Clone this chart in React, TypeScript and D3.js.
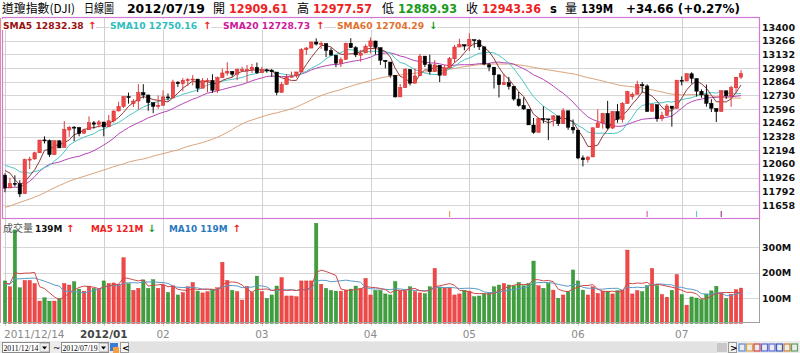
import { useEffect, useRef } from 'react';
import * as d3 from 'd3';

// daily candles 2011/12/14 .. 2012/07/19
const opens = [
  11950, 11825, 11870, 11866, 11769, 12097, 12109, 12169, 12295, 12290, 12151, 12286,
  12221, 12392, 12420, 12415, 12360, 12394, 12462, 12448, 12470, 12423, 12482, 12578, 12623, 12720, 12650, 12676, 12758, 12734, 12659, 12623,
  12633, 12716, 12705, 12860, 12845, 12878, 12883, 12890, 12801, 12874, 12878, 12781, 12904, 12949, 12965, 12938, 12975, 12970, 12982, 13005,
  12952, 12980, 12977, 12959, 12760, 12838, 12907, 12922, 12960, 13178, 13194, 13253, 13231, 13238, 13171, 13124, 13046, 13082, 13241, 13198, 13124, 13146,
  13211, 13263, 13198, 13074, 13057, 12928, 12716, 12806, 12985, 12850, 12922, 13115, 13031, 12965, 13026, 12928, 13000, 13089, 13204, 13227,
  13214, 13276, 13268, 13206, 13030, 13007, 12932, 12835, 12855, 12820, 12694, 12633, 12596, 12441, 12369, 12504, 12501, 12497, 12530, 12454, 12580, 12419,
  12391, 12119, 12101, 12128, 12416, 12460, 12555, 12411, 12573, 12497, 12651, 12718, 12742, 12835, 12823, 12575, 12640, 12503, 12534, 12626, 12603,
  12879, 12871, 12942, 12895, 12771, 12736, 12653, 12603, 12573, 12776, 12727, 12805, 12909.61,
];
const highs = [
  11968, 11925, 11948, 11900, 12112, 12130, 12180, 12294, 12330, 12300, 12288, 12293,
  12479, 12430, 12430, 12422, 12405, 12525, 12480, 12490, 12472, 12539, 12583, 12668, 12720, 12758, 12695, 12841, 12840, 12740, 12660, 12730,
  12780, 12750, 12884, 12870, 12900, 12900, 12929, 12892, 12900, 12900, 12938, 12915, 12994, 13055, 12970, 12995, 13010, 13027, 13039, 13052,
  13010, 12992, 12990, 12959, 12864, 12940, 12963, 12960, 13193, 13205, 13255, 13289, 13260, 13238, 13194, 13124, 13103, 13245, 13290, 13213, 13175, 13230,
  13297, 13266, 13198, 13074, 13057, 12928, 12843, 12997, 12985, 12994, 13136, 13115, 13130, 13076, 13026, 13031, 13107, 13224, 13285, 13227,
  13338, 13276, 13280, 13206, 13048, 13007, 12932, 12941, 12912, 12820, 12764, 12711, 12596, 12510, 12513, 12624, 12501, 12538, 12532, 12606, 12580, 12495,
  12391, 12143, 12135, 12415, 12594, 12558, 12677, 12575, 12646, 12665, 12776, 12760, 12874, 12860, 12839, 12650, 12640, 12571, 12647, 12626, 12880,
  12917, 12943, 12957, 12896, 12789, 12837, 12693, 12603, 12780, 12776, 12825, 12910, 12977.57,
];
const lows = [
  11783, 11825, 11840, 11735, 11769, 12010, 12100, 12169, 12260, 12128, 12151, 12217,
  12221, 12325, 12283, 12330, 12355, 12394, 12405, 12418, 12330, 12423, 12465, 12575, 12608, 12650, 12618, 12590, 12700, 12580, 12557, 12600,
  12633, 12680, 12705, 12814, 12770, 12824, 12830, 12763, 12801, 12760, 12755, 12755, 12904, 12924, 12914, 12880, 12964, 12861, 12950, 12940,
  12952, 12953, 12912, 12732, 12760, 12838, 12907, 12904, 12960, 13127, 13192, 13219, 13186, 13105, 13120, 13007, 13008, 13082, 13197, 13105, 13060, 13145,
  13142, 13130, 13029, 12995, 12904, 12710, 12716, 12806, 12828, 12850, 12922, 13009, 12935, 12965, 12861, 12928, 13000, 13050, 13204, 13172,
  13165, 13197, 13175, 13025, 12967, 12798, 12710, 12835, 12787, 12678, 12620, 12589, 12442, 12355, 12369, 12459, 12293, 12428, 12431, 12454, 12394, 12357,
  12107, 12035, 12074, 12128, 12416, 12405, 12396, 12402, 12463, 12466, 12651, 12690, 12742, 12760, 12569, 12575, 12473, 12478, 12534, 12425, 12603,
  12829, 12871, 12846, 12719, 12707, 12620, 12568, 12470, 12573, 12694, 12619, 12754, 12889.93,
];
const closes = [
  11823, 11868, 11866, 11766, 12103, 12107, 12169, 12294, 12291, 12151, 12287, 12217,
  12397, 12418, 12415, 12360, 12393, 12463, 12449, 12471, 12422, 12482, 12578, 12623, 12720, 12709, 12675, 12757, 12735, 12660, 12623, 12633,
  12716, 12705, 12862, 12845, 12878, 12884, 12891, 12801, 12874, 12878, 12781, 12904, 12950, 12966, 12938, 12984, 12983, 12982, 13005, 12952,
  12980, 12977, 12962, 12759, 12838, 12907, 12922, 12960, 13178, 13194, 13253, 13233, 13239, 13171, 13125, 13046, 13081, 13241, 13198, 13127, 13145, 13212,
  13264, 13199, 13075, 13060, 12929, 12716, 12806, 12987, 12850, 12921, 13115, 13032, 12964, 13029, 12928, 13001, 13090, 13204, 13228, 13213,
  13279, 13268, 13206, 13038, 13008, 12932, 12835, 12855, 12820, 12695, 12632, 12598, 12442, 12369, 12504, 12502, 12497, 12530, 12454, 12580, 12419, 12393,
  12118, 12101, 12127, 12414, 12461, 12554, 12411, 12573, 12497, 12652, 12767, 12742, 12837, 12824, 12574, 12640, 12502, 12535, 12627, 12602, 12880,
  12871, 12943, 12897, 12772, 12736, 12653, 12605, 12573, 12777, 12727, 12806, 12908.70, 12943.36,
];
// closes before the window, needed for the moving averages
const priorCloses = [
  11125, 10734, 10771, 11044, 11191, 10990, 11154, 10913,
  10655, 10809, 10940, 11124, 11103, 11433, 11416, 11519, 11479, 11644, 11397, 11577, 11505, 11541, 11809, 11913, 11706, 11869, 12209, 12231, 11955,
  11657, 11836, 12044, 11983, 12069, 12170, 11781, 11893, 12153, 12079, 12096, 11906, 11771, 11796, 11547, 11494, 11258, 11231, 11523, 11556, 12046,
  12021, 12019, 12098, 12150, 12196, 11997, 12184, 12021, 11955,
];
// volume in millions
const volumes = [
  167, 144, 367, 140, 169, 169, 157, 88, 101, 88, 88, 99,
  157, 151, 164, 135, 127, 147, 138, 135, 167, 157, 159, 154, 258, 156, 130, 138, 171, 138, 172, 138,
  151, 122, 148, 112, 121, 144, 161, 127, 120, 125, 135, 140, 240, 169, 130, 125, 92, 146, 122, 186,
  125, 99, 112, 147, 180, 108, 108, 105, 167, 167, 167, 393, 154, 138, 130, 127, 127, 131, 135, 147, 138, 177,
  112, 130, 130, 116, 112, 164, 127, 127, 144, 125, 120, 117, 144, 216, 143, 140, 140, 112, 116, 130,
  127, 105, 108, 116, 119, 144, 151, 157, 151, 148, 161, 148, 157, 245, 148, 138, 157, 131, 99, 112, 125, 210,
  167, 131, 112, 144, 118, 127, 127, 116, 129, 131, 288, 116, 129, 125, 149, 216, 149, 114, 103, 130, 192,
  114, 72, 104, 100, 95, 116, 128, 146, 120, 98, 115, 133, 139,
];
const priorVolumes = [165, 150, 140, 155, 160, 150, 148, 162, 158];

const priceTicks = [13400, 13266, 13132, 12998, 12864, 12730, 12596, 12462, 12328, 12194, 12060, 11926, 11792, 11658];
const volumeTicks = [100, 200, 300];
const monthTicks = [
  { index: 0, label: '2011/12/14' },
  { index: 20, label: '2012/01' },
  { index: 32, label: '02' },
  { index: 52, label: '03' },
  { index: 74, label: '04' },
  { index: 94, label: '05' },
  { index: 116, label: '06' },
  { index: 137, label: '07' },
];
const maPeriods = [5, 10, 20, 60];
const maNames = ['SMA5', 'SMA10', 'SMA20', 'SMA60'];
const maLegendValues = [12832.38, 12750.16, 12728.73, 12704.29];
const maUp = [true, true, true, false];
const volLegendValues = [139, 121, 119];
const signalMarks = [
  { index: 90, color: '#e8a060' },
  { index: 130, color: '#e060c0' },
  { index: 140, color: '#60c8d8' },
  { index: 145, color: '#a04090' },
];

const FONT = 'DejaVu Sans, Verdana, sans-serif';
const CJK = 'Noto Sans CJK TC, sans-serif';
const RED = '#ee2222';
const GREEN = '#1a9a1a';
const maColors = ['#8c3a3a', '#4cc6c6', '#b545b5', '#dba37a'];
const maTextColors = ['#991111', '#2fbdbd', '#cc1a99', '#e0722f'];

function movingAverage(series: number[], prior: number[], n: number) {
  const all = prior.concat(series);
  return series.map((_, i) => {
    const end = prior.length + i;
    return d3.mean(all.slice(end - n + 1, end + 1)) as number;
  });
}

export default function App() {
  const svgRef = useRef<SVGSVGElement>(null);

  useEffect(() => {
    if (!svgRef.current) return;
    const svg = d3.select(svgRef.current);
    svg.selectAll('*').remove();

    const left = 3, right = 759;
    const priceTop = 18, priceBottom = 218;
    const volTop = 219, volBottom = 323;

    const x = d3.scaleLinear().domain([0, closes.length - 1]).range([5, 741]);
    const y = d3.scaleLinear().domain([11658, 13400]).range([205, 27]);
    const yv = d3.scaleLinear().domain([0, 300]).range([323.5, 247]);

    svg.append('rect').attr('width', 800).attr('height', 353).attr('fill', '#fff');

    // ---------- header ----------
    const last = closes.length - 1;
    const chg = closes[last] - closes[last - 1];
    const header = [
      { x: 2, t: '道瓊指數(DJI)', c: '#000', cjk: true, w: 73 },
      { x: 84, t: '日線圖', c: '#000', cjk: true, w: 30 },
      { x: 127, t: '2012/07/19', c: '#000', w: 78 },
      { x: 213, t: '開', c: '#000', cjk: true },
      { x: 229, t: opens[last].toFixed(2), c: RED, w: 59 },
      { x: 297, t: '高', c: '#000', cjk: true },
      { x: 313, t: highs[last].toFixed(2), c: RED, w: 59 },
      { x: 382, t: '低', c: '#000', cjk: true },
      { x: 398, t: lows[last].toFixed(2), c: GREEN, w: 59 },
      { x: 466, t: '收', c: '#000', cjk: true },
      { x: 482, t: closes[last].toFixed(2), c: RED, w: 59 },
      { x: 550, t: 's', c: '#000' },
      { x: 565, t: '量', c: '#000', cjk: true },
      { x: 581, t: `${volumes[last]}M`, c: '#000', w: 32 },
      { x: 626, t: `+${chg.toFixed(2)} (+${(chg / closes[last - 1] * 100).toFixed(2)}%)`, c: '#000', w: 114 },
    ];
    header.forEach(h => {
      const t = svg.append('text')
        .attr('x', h.x).attr('y', 13)
        .attr('fill', h.c)
        .style('font-family', h.cjk ? CJK : FONT)
        .style('font-size', h.cjk ? '12px' : '11.5px')
        .style('font-weight', h.cjk ? 'normal' : 'bold')
        .text(h.t);
      if (h.w) t.attr('textLength', h.w).attr('lengthAdjust', 'spacingAndGlyphs');
    });

    // ---------- price grid ----------
    svg.append('g').selectAll('line').data(priceTicks).join('line')
      .attr('x1', left).attr('x2', right)
      .attr('y1', d => Math.round(y(d)) + 0.5).attr('y2', d => Math.round(y(d)) + 0.5)
      .attr('stroke', '#d6d6d6');
    svg.append('g').selectAll('line').data(monthTicks).join('line')
      .attr('x1', d => Math.round(x(d.index)) + 0.5).attr('x2', d => Math.round(x(d.index)) + 0.5)
      .attr('y1', priceTop).attr('y2', priceBottom)
      .attr('stroke', '#d0d0d0');
    svg.append('g').selectAll('text').data(priceTicks).join('text')
      .attr('x', 762).attr('y', d => y(d) + 3.5)
      .attr('fill', '#111')
      .style('font-family', FONT).style('font-size', '9.5px').style('font-weight', 'bold')
      .text(d => d);

    // ---------- moving averages ----------
    const mas = maPeriods.map(n => movingAverage(closes, priorCloses, n));
    const line = d3.line<number>().x((_, i) => x(i)).y(d => y(d));
    [3, 2, 1, 0].forEach(k => {
      svg.append('path').datum(mas[k])
        .attr('d', line)
        .attr('fill', 'none')
        .attr('stroke', maColors[k])
        .attr('stroke-width', 1);
    });

    // ---------- candles ----------
    const bw = 3.4;
    const candles = svg.append('g').selectAll('g').data(closes).join('g');
    const up = (i: number) => closes[i] >= opens[i];
    candles.append('line')
      .attr('x1', (_, i) => x(i)).attr('x2', (_, i) => x(i))
      .attr('y1', (_, i) => y(highs[i])).attr('y2', (_, i) => y(lows[i]))
      .attr('stroke', (_, i) => (up(i) ? '#e03a3a' : '#111'))
      .attr('stroke-width', 1);
    candles.append('rect')
      .attr('x', (_, i) => x(i) - bw / 2)
      .attr('width', bw)
      .attr('y', (_, i) => y(Math.max(opens[i], closes[i])))
      .attr('height', (_, i) => Math.max(1, Math.abs(y(opens[i]) - y(closes[i]))))
      .attr('fill', (_, i) => (up(i) ? '#f04848' : '#000'))
      .attr('stroke', (_, i) => (up(i) ? '#d02828' : '#000'))
      .attr('stroke-width', 0.5);

    // signal marks at panel bottom
    svg.append('g').selectAll('line').data(signalMarks).join('line')
      .attr('x1', d => x(d.index)).attr('x2', d => x(d.index))
      .attr('y1', 211).attr('y2', 217)
      .attr('stroke', d => d.color).attr('stroke-width', 1.2);

    // price panel frame
    svg.append('rect')
      .attr('x', 2.5).attr('y', priceTop - 0.5)
      .attr('width', right - 2).attr('height', priceBottom - priceTop + 1)
      .attr('fill', 'none').attr('stroke', '#d27ad2').attr('stroke-width', 1.2);
    svg.append('line').attr('x1', 0.5).attr('x2', 0.5).attr('y1', priceTop).attr('y2', volBottom)
      .attr('stroke', '#e08aa0');

    // MA legend
    const legendPos = [3, 110, 223, 337];
    const legendW = [80, 88, 88, 87];
    maNames.forEach((name, k) => {
      svg.append('rect').attr('x', legendPos[k] - 1).attr('y', 19).attr('width', legendW[k] + 14).attr('height', 11).attr('fill', '#fff');
      svg.append('text')
        .attr('x', legendPos[k]).attr('y', 28.5)
        .attr('fill', maTextColors[k])
        .style('font-family', FONT).style('font-size', '9.2px').style('font-weight', 'bold')
        .text(`${name} ${maLegendValues[k].toFixed(2)}`);
      svg.append('text')
        .attr('x', legendPos[k] + legendW[k] + 5).attr('y', 28.5)
        .attr('fill', maUp[k] ? RED : GREEN)
        .style('font-family', FONT).style('font-size', '10px').style('font-weight', 'bold')
        .text(maUp[k] ? '↑' : '↓');
    });

    // ---------- volume panel ----------
    svg.append('g').selectAll('line').data(volumeTicks).join('line')
      .attr('x1', left).attr('x2', right)
      .attr('y1', d => Math.round(yv(d)) + 0.5).attr('y2', d => Math.round(yv(d)) + 0.5)
      .attr('stroke', '#d6d6d6');
    svg.append('g').selectAll('line').data(monthTicks).join('line')
      .attr('x1', d => Math.round(x(d.index)) + 0.5).attr('x2', d => Math.round(x(d.index)) + 0.5)
      .attr('y1', volTop).attr('y2', volBottom + 3)
      .attr('stroke', '#d0d0d0');
    svg.append('g').selectAll('text').data(volumeTicks).join('text')
      .attr('x', 762).attr('y', d => yv(d) + 3.5)
      .attr('fill', '#111')
      .style('font-family', FONT).style('font-size', '9.5px').style('font-weight', 'bold')
      .text(d => `${d}M`);

    svg.append('g').selectAll('rect').data(volumes).join('rect')
      .attr('x', (_, i) => x(i) - bw / 2)
      .attr('width', bw)
      .attr('y', d => yv(d))
      .attr('height', d => yv(0) - yv(d))
      .attr('fill', (_, i) => (up(i) ? '#f04848' : '#3f9f3f'))
      .attr('stroke', (_, i) => (up(i) ? '#d83030' : '#2f8a2f'))
      .attr('stroke-width', 0.4);

    const vma5 = movingAverage(volumes, priorVolumes, 5);
    const vma10 = movingAverage(volumes, priorVolumes, 10);
    const vline = d3.line<number>().x((_, i) => x(i)).y(d => yv(d));
    svg.append('path').datum(vma10).attr('d', vline).attr('fill', 'none').attr('stroke', '#5a9ac8').attr('stroke-width', 1);
    svg.append('path').datum(vma5).attr('d', vline).attr('fill', 'none').attr('stroke', '#d04a4a').attr('stroke-width', 1);

    // axis lines
    svg.append('line').attr('x1', left).attr('x2', right).attr('y1', volBottom - 0.5).attr('y2', volBottom - 0.5)
      .attr('stroke', '#a0a0a0');
    svg.append('line').attr('x1', right + 0.5).attr('x2', right + 0.5).attr('y1', volTop).attr('y2', volBottom)
      .attr('stroke', '#a0a0a0');

    // volume legend
    const vl = svg.append('g').style('font-family', FONT).style('font-size', '8.9px').style('font-weight', 'bold');
    vl.append('text').attr('x', 3).attr('y', 231.5).attr('fill', '#555')
      .style('font-family', CJK).style('font-weight', 'normal').style('font-size', '10px').text('成交量');
    vl.append('text').attr('x', 35).attr('y', 231.5).attr('fill', '#111').text(`${volLegendValues[0]}M`);
    vl.append('text').attr('x', 66).attr('y', 231.5).attr('fill', RED).style('font-size', '10px').text('↑');
    vl.append('text').attr('x', 91).attr('y', 231.5).attr('fill', '#ee2222').text(`MA5 ${volLegendValues[1]}M`);
    vl.append('text').attr('x', 147.5).attr('y', 231.5).attr('fill', GREEN).style('font-size', '10px').text('↓');
    vl.append('text').attr('x', 169).attr('y', 231.5).attr('fill', '#2a78c0').text(`MA10 ${volLegendValues[2]}M`);
    vl.append('text').attr('x', 232.5).attr('y', 231.5).attr('fill', RED).style('font-size', '10px').text('↑');

    // x labels
    svg.append('g').selectAll('text').data(monthTicks).join('text')
      .attr('x', (d, i) => (i === 0 ? 4 : x(d.index)))
      .attr('y', 338)
      .attr('text-anchor', (_, i) => (i === 0 ? 'start' : 'middle'))
      .attr('fill', (_, i) => (i === 1 ? '#444' : '#8a8a8a'))
      .style('font-family', FONT)
      .style('font-size', '10.5px')
      .style('font-weight', (_, i) => (i === 1 ? 'bold' : 'normal'))
      .text(d => d.label);

    // ---------- bottom control bar ----------
    const bar = svg.append('g');
    bar.append('rect').attr('x', 0).attr('y', 341).attr('width', 800).attr('height', 12).attr('fill', '#ececec');
    bar.append('rect').attr('x', 128).attr('y', 342).attr('width', 589).attr('height', 11).attr('fill', '#e2e2e2');
    [[2, '2011/12/14'], [61, '2012/07/19']].forEach(([bx, label]) => {
      const b = bx as number;
      bar.append('rect').attr('x', b + 0.5).attr('y', 342.5).attr('width', 47).attr('height', 10)
        .attr('fill', '#fff').attr('stroke', '#8a8a8a');
      bar.append('text').attr('x', b + 1.5).attr('y', 351)
        .attr('textLength', 35).attr('lengthAdjust', 'spacingAndGlyphs')
        .style('font-family', 'Liberation Serif, serif').style('font-size', '8px').attr('fill', '#000')
        .text(label as string);
      bar.append('rect').attr('x', b + 38).attr('y', 343.5).attr('width', 9).attr('height', 8)
        .attr('fill', '#eee').attr('stroke', '#999').attr('stroke-width', 0.5);
      bar.append('path').attr('d', `M${b + 40},346.5 h5 l-2.5,3 z`).attr('fill', '#000');
    });
    bar.append('text').attr('x', 53).attr('y', 351).style('font-family', FONT).style('font-size', '9px').text('~');
    bar.append('rect').attr('x', 110).attr('y', 343).attr('width', 8).attr('height', 8).attr('fill', '#3a7ad8');
    bar.append('rect').attr('x', 113).attr('y', 347).attr('width', 6).attr('height', 6).attr('fill', '#f0a040');
    bar.append('rect').attr('x', 120.5).attr('y', 342.5).attr('width', 8).attr('height', 10).attr('fill', '#f4f4f4').attr('stroke', '#999');
    bar.append('text').attr('x', 122).attr('y', 351).style('font-family', FONT).style('font-size', '9px').style('font-weight', 'bold').text('<');
    bar.append('rect').attr('x', 717).attr('y', 343).attr('width', 10).attr('height', 9).attr('fill', '#c8c8c8');
    bar.append('rect').attr('x', 728.5).attr('y', 342.5).attr('width', 8).attr('height', 10).attr('fill', '#f4f4f4').attr('stroke', '#999');
    bar.append('text').attr('x', 730).attr('y', 351).style('font-family', FONT).style('font-size', '9px').style('font-weight', 'bold').text('>');
    const icons = ['#5a8ad0', '#e0a040', '#d04040', '#5a6ad8', '#5a6ad8', '#3a5ac0', '#d08030', '#60a060'];
    icons.forEach((c, k) => {
      bar.append('rect').attr('x', 739 + k * 7.5).attr('y', 344).attr('width', 6).attr('height', 7)
        .attr('fill', 'none').attr('stroke', c).attr('stroke-width', 1.2);
    });
  }, []);

  return (
    <svg
      ref={ svgRef }
      width={ 800 }
      height={ 353 }
      style={ { position: 'absolute', left: 0, top: 0, display: 'block' } }
    />
  );
}
